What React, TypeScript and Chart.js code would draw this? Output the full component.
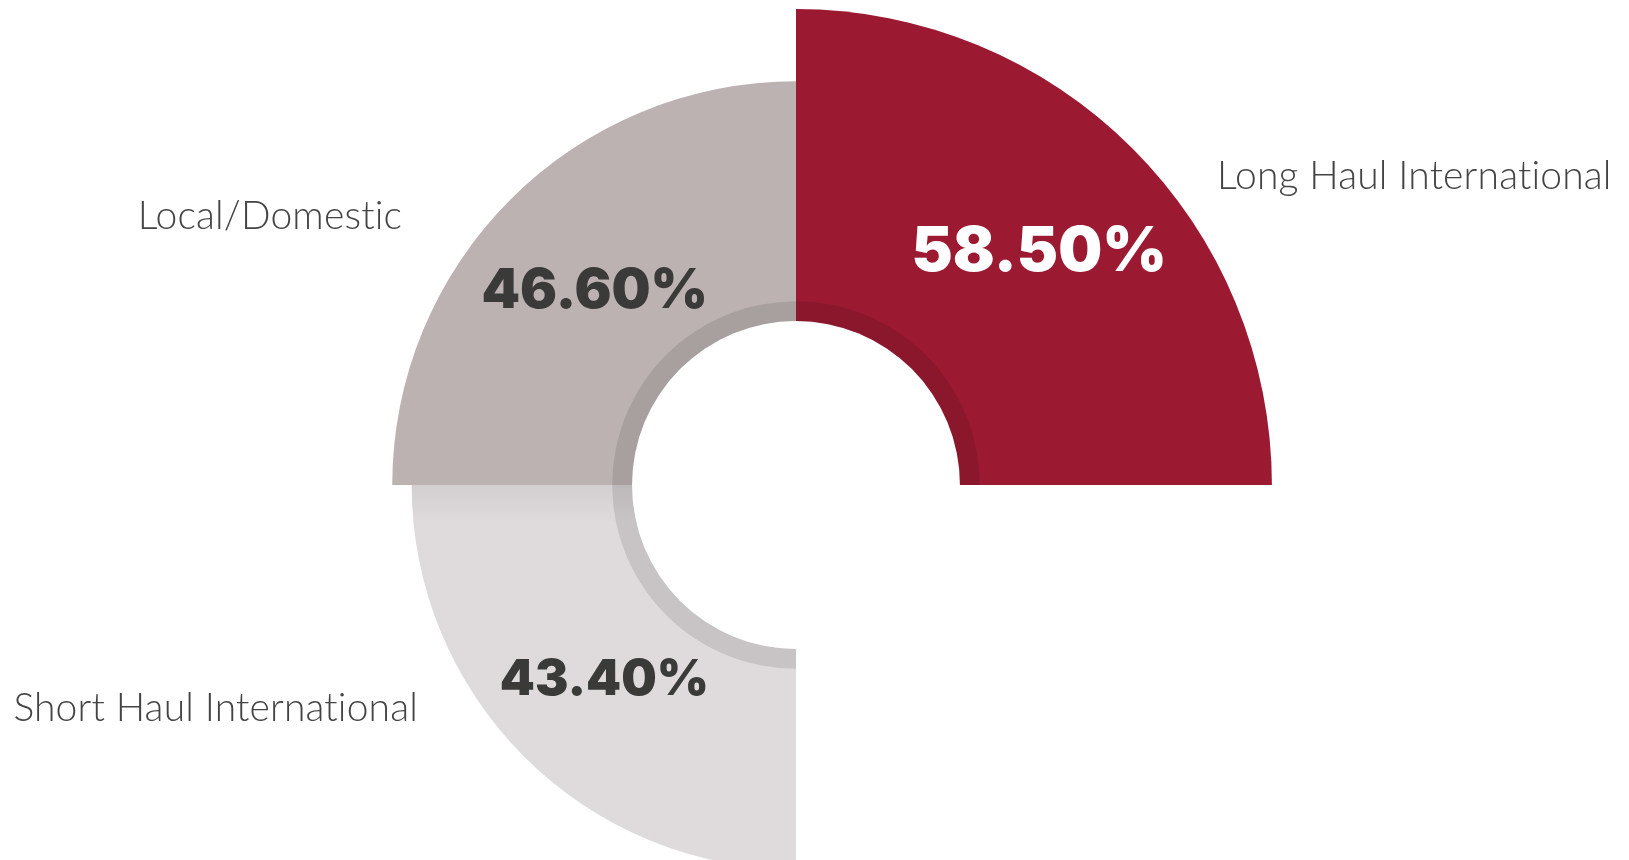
import React, { useEffect, useRef } from 'react';
import { Chart, registerables } from 'chart.js';

Chart.register(...registerables);

// Segments run clockwise from 12 o'clock; the bottom-right quadrant is empty.
const categories = ['Long Haul International', '', 'Short Haul International', 'Local/Domestic'];
const shares: (number | null)[] = [58.5, null, 43.4, 46.6];
const shareLabels = ['58.50%', '', '43.40%', '46.60%'];
const segmentColors = ['#9B1A31', 'rgba(0,0,0,0)', '#DFDADB', '#BBB2B1'];
const valueTextColors = ['#FFFFFF', '', '#3A3A38', '#3A3A38'];
const valueFontSizes = [62, 0, 50, 55];

const decorPlugin = {
  id: 'decor',
  afterDatasetsDraw(chart: any) {
    const ctx = chart.ctx as CanvasRenderingContext2D;
    const scale = chart.scales.r;
    const cx = scale.xCenter;
    const cy = scale.yCenter;
    const D = scale.drawingArea;
    const hole = D * 0.338;
    const ringOut = D * 0.379;
    const meta = chart.getDatasetMeta(0);

    ctx.save();
    meta.data.forEach((arc: any, i: number) => {
      if (shares[i] == null) return;
      const p = arc.getProps(['startAngle', 'endAngle', 'outerRadius'], true);
      // soft shadow at the top of the short-haul segment
      if (i === 2) {
        ctx.save();
        ctx.beginPath();
        ctx.arc(cx, cy, p.outerRadius, p.startAngle, p.endAngle);
        ctx.arc(cx, cy, hole, p.endAngle, p.startAngle, true);
        ctx.closePath();
        ctx.clip();
        const g = ctx.createLinearGradient(0, cy, 0, cy + 38);
        g.addColorStop(0, 'rgba(0,0,0,0.055)');
        g.addColorStop(1, 'rgba(0,0,0,0)');
        ctx.fillStyle = g;
        ctx.fillRect(cx - p.outerRadius, cy, p.outerRadius, 40);
        ctx.restore();
      }
      // darker inner band
      ctx.beginPath();
      ctx.arc(cx, cy, ringOut, p.startAngle, p.endAngle);
      ctx.arc(cx, cy, hole, p.endAngle, p.startAngle, true);
      ctx.closePath();
      ctx.fillStyle = 'rgba(0,0,0,0.1)';
      ctx.fill();
    });

    // white hole
    ctx.beginPath();
    ctx.arc(cx, cy, hole, 0, Math.PI * 2);
    ctx.fillStyle = '#FFFFFF';
    ctx.fill();

    // value labels
    meta.data.forEach((arc: any, i: number) => {
      if (shares[i] == null) return;
      const p = arc.getProps(['startAngle', 'endAngle', 'outerRadius'], true);
      const mid = (p.startAngle + p.endAngle) / 2;
      const r = p.outerRadius * 0.705;
      const x = cx + Math.cos(mid) * r + (i === 0 ? 6 : 0);
      const y = cy + Math.sin(mid) * r + (i === 3 ? 4 : 0);
      ctx.font = `900 ${valueFontSizes[i]}px Inter, "Open Sans", sans-serif`;
      ctx.textAlign = 'center';
      ctx.textBaseline = 'alphabetic';
      const m = ctx.measureText('0');
      const cap = m.actualBoundingBoxAscent;
      ctx.fillStyle = valueTextColors[i];
      ctx.fillText(shareLabels[i], x, y + cap / 2);
    });

    // category labels
    const anchors: Record<number, { dx: number; dy: number; align: CanvasTextAlign }> = {
      0: { dx: 421, dy: -296, align: 'left' },
      2: { dx: -378, dy: 236, align: 'right' },
      3: { dx: -394, dy: -256, align: 'right' },
    };
    ctx.font = '300 39px Lato, "Open Sans", sans-serif';
    (ctx as any).letterSpacing = '0.15px';
    (ctx as any).textRendering = 'optimizeSpeed';
    ctx.fillStyle = '#444444';
    ctx.textBaseline = 'alphabetic';
    Object.keys(anchors).forEach((k) => {
      const i = Number(k);
      const a = anchors[i];
      ctx.textAlign = a.align;
      ctx.fillText(categories[i], cx + a.dx, cy + a.dy);
    });
    ctx.restore();
  },
};

export default function App() {
  const ref = useRef<HTMLCanvasElement>(null);
  useEffect(() => {
    document.body.style.margin = '0';
    const chart = new Chart(ref.current as HTMLCanvasElement, {
      type: 'polarArea',
      data: {
        labels: categories,
        datasets: [
          {
            data: shares as any,
            backgroundColor: segmentColors,
            borderWidth: 0,
          },
        ],
      },
      options: {
        responsive: false,
        devicePixelRatio: 1,
        animation: false,
        layout: { padding: { left: 0, right: 37, top: 0, bottom: 20 } },
        plugins: {
          legend: { display: false },
          tooltip: { enabled: false },
        },
        scales: {
          r: {
            display: false,
            min: -20,
            max: 60,
            ticks: { display: false },
            grid: { display: false },
            angleLines: { display: false },
            pointLabels: { display: false },
          },
        },
      },
      plugins: [decorPlugin],
    });
    return () => chart.destroy();
  }, []);
  return (
    <div
      style={{
        position: 'fixed',
        left: 0,
        top: 0,
        width: 1629,
        height: 860,
        overflow: 'hidden',
        background: '#FFFFFF',
      }}
    >
      <canvas ref={ref} width={1629} height={990} style={{ display: 'block' }} />
    </div>
  );
}
